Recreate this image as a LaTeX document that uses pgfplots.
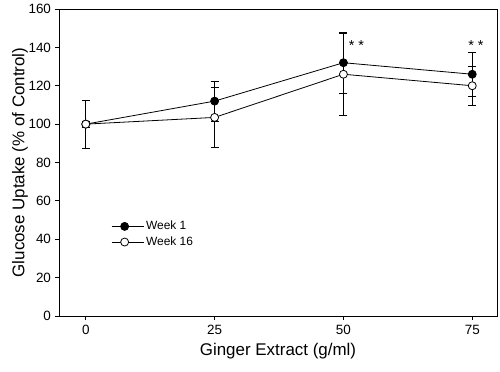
\documentclass[border=0pt]{standalone}
\usepackage{fontspec}
\setmainfont{Liberation Sans}
\usepackage{pgfplots}
\pgfplotsset{compat=1.18}
\begin{document}
\begin{tikzpicture}
\begin{axis}[
  scale only axis,
  width=438bp, height=307bp,
  xmin=-5.2, xmax=79.8,
  ymin=0, ymax=160,
  xtick={0,25,50,75},
  ytick={0,20,40,60,80,100,120,140,160},
  xtick pos=bottom, ytick pos=left,
  tick align=outside,
  major tick length=4bp,
  tick style={black, line width=0.8bp},
  axis line style={line width=0.8bp},
  /pgf/number format/assume math mode=true,
  ticklabel style={font=\fontsize{13.5}{16}\selectfont},
  yticklabel style={xshift=-0.5bp},
  xticklabel style={yshift=-2bp},
  xlabel={Ginger Extract (g/ml)},
  ylabel={Glucose Uptake (\% of Control)},
  label style={font=\fontsize{17}{20}\selectfont},
  xlabel style={at={(axis description cs:0.5,-0.116)}, anchor=center},
  ylabel style={at={(axis description cs:-0.089,0.5)}, anchor=center},
  legend style={draw=none, fill=none, at={(axis description cs:0.112,0.322)}, anchor=north west,
    font=\fontsize{12}{14}\selectfont, row sep=1.5bp},
  legend cell align=left,
  legend image code/.code={\draw[mark repeat=2,mark phase=2] plot coordinates {(0bp,0bp)(13bp,0bp)(26bp,0bp)};
    \path (26bp,0bp) -- (32bp,0bp);},
]
\addplot[black, line width=0.8bp, mark=*, mark size=4bp, mark options={fill=black},
  error bars/.cd, y dir=both, y explicit,
  error bar style={line width=0.8bp, black},
  error mark options={rotate=90, mark size=4bp, line width=0.8bp, black}]
  coordinates {(0,100) +- (0,1.5) (25,112) +- (0,10.5) (50,132) +- (0,16) (75,126) +- (0,11.5)};
\addlegendentry{Week 1}
\addplot[black, line width=0.8bp, mark=*, mark size=4bp, mark options={fill=white},
  error bars/.cd, y dir=both, y explicit,
  error bar style={line width=0.8bp, black},
  error mark options={rotate=90, mark size=4bp, line width=0.8bp, black}]
  coordinates {(0,100) +- (0,12.5) (25,103.5) +- (0,15.5) (50,126) +- (0,21.5) (75,120) +- (0,10)};
\addlegendentry{Week 16}
\node[anchor=base west, inner sep=0pt, font=\fontsize{14.5}{16}\selectfont] at (axis cs:51,138.5) {* *};
\node[anchor=base west, inner sep=0pt, font=\fontsize{14.5}{16}\selectfont] at (axis cs:74.2,138.5) {* *};
\end{axis}
\pgfresetboundingbox
\useasboundingbox (current axis.south west) ++(-59bp,-56bp) rectangle ++(500bp,372bp);
\end{tikzpicture}
\end{document}
